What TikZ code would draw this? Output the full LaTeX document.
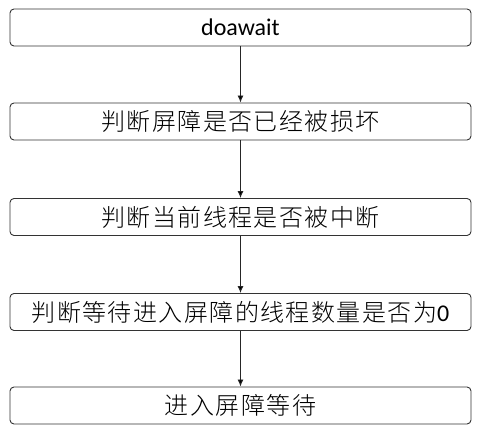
\documentclass[tikz,border=0pt]{standalone}
\usepackage{fontspec}
\setmainfont{Carlito}
\newfontfamily\cjk[LetterSpace=6]{Noto Sans CJK SC Light}
\usetikzlibrary{arrows.meta,positioning}
\tikzset{
    -{Latex[length=7pt,width=6pt]},semithick,x=1pt,y=1pt,
    step box/.style ={rectangle, rounded corners=4pt, draw=black!80, line width=0.9pt,
        minimum width=461pt, minimum height=37pt, inner sep=0pt, font=\fontsize{24}{26}\selectfont},
    flow/.style={draw=black!85, line width=0.9pt}
}
\begin{document}
\begin{tikzpicture}
    \useasboundingbox (0,0) rectangle (480,436);
    \node[step box] (s1) at (240.5,408.5) {doawait};
    \node[step box] (s2) at (240.5,314.5) {\cjk 判断屏障是否已经被损坏};
    \node[step box] (s3) at (240.5,219) {\cjk 判断当前线程是否被中断};
    \node[step box] (s4) at (240.5,124) {{\cjk 判断等待进入屏障的线程数量是否为}0};
    \node[step box] (s5) at (240.5,30.5) {\cjk 进入屏障等待};

    \path[flow] (s1) edge (s2);
    \path[flow] (s2) edge (s3);
    \path[flow] (s3) edge (s4);
    \path[flow] (s4) edge (s5);
\end{tikzpicture}
\end{document}
